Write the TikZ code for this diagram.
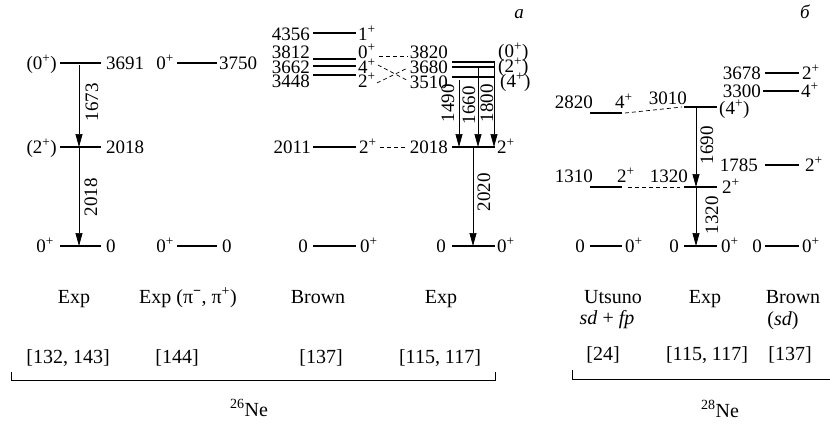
\documentclass[tikz,border=0pt]{standalone}
\usepackage{fontspec}
\setmainfont{Liberation Serif}
\usetikzlibrary{arrows.meta}
\newcommand\spl{\textsuperscript{+}}
\newcommand\lev[4]{\coordinate (#1L) at (#2,#4); \coordinate (#1R) at (#3,#4); \draw[lvl] (#1L) -- (#1R);}
\tikzset{
  lvl/.style={line width=1.8pt},
  tr/.style={line width=0.7pt, -{Triangle[length=13pt,width=7pt]}},
  dsh/.style={line width=0.7pt, dash pattern=on 4pt off 3pt},
  lab/.style={inner sep=0pt, font=\fontsize{19}{22}\selectfont},
  elab/.style={lab, anchor=base east},
  wlab/.style={lab, anchor=base west},
  rlab/.style={lab, rotate=90},
  blab/.style={inner sep=0pt, anchor=base, font=\fontsize{20}{24}\selectfont},
  brk/.style={line width=0.7pt},
}
\begin{document}
\begin{tikzpicture}[x=1pt,y=-1pt]
\fill[white] (0,0) rectangle (830,424);
\useasboundingbox (0,0) rectangle (830,424);
% ---------- 26Ne Exp ----------
\lev{Aa}{60}{101}{63}
\lev{Ab}{60}{101}{147}
\lev{Ac}{60}{101}{246}
\node[elab] (Aal) at (57,69) {(0\spl)};
\node[wlab] (Aar) at (106,69) {3691};
\node[elab] (Abl) at (57,153) {(2\spl)};
\node[wlab] (Abr) at (106,153) {2018};
\node[elab] (Acl) at (54,252) {0\spl};
\node[wlab] (Acr) at (106,252) {0};
\draw[tr] ([xshift=19pt,yshift=-2pt]AaL) -- ([xshift=19pt]AbL);
\draw[tr] ([xshift=19pt]AbL) -- ([xshift=19pt]AcL);
\node[rlab] (Ag1) at (92,102) {1673};
\node[rlab] (Ag2) at (91,197) {2018};
% ---------- 26Ne Exp (pi-,pi+) ----------
\lev{Ba}{177}{217}{63}
\lev{Bb}{177}{217}{246}
\node[elab] (Bal) at (174,69) {0\spl};
\node[wlab] (Bar) at (219,69) {3750};
\node[elab] (Bbl) at (174,252) {0\spl};
\node[wlab] (Bbr) at (222,252) {0};
% ---------- 26Ne Brown ----------
\lev{Ca}{313}{356}{33}
\lev{Cb}{313}{356}{59}
\lev{Cc}{313}{356}{66}
\lev{Cd}{313}{356}{75}
\lev{Ce}{313}{356}{147}
\lev{Cf}{313}{356}{246}
\node[elab] (Cal) at (310,40) {4356};
\node[wlab] (Car) at (358,40) {1\spl};
\node[elab] (Cbl) at (310,58) {3812};
\node[wlab] (Cbr) at (358,58) {0\spl};
\node[elab] (Ccl) at (310,73) {3662};
\node[wlab] (Ccr) at (358,73) {4\spl};
\node[elab] (Cdl) at (310,87) {3448};
\node[wlab] (Cdr) at (358,87) {2\spl};
\node[elab] (Cel) at (311,153) {2011};
\node[wlab] (Cer) at (359,153) {2\spl};
\node[elab] (Cfl) at (308,252) {0};
\node[wlab] (Cfr) at (360,252) {0\spl};
% ---------- 26Ne Exp (right) ----------
\lev{Da}{452}{495}{62}
\lev{Db}{452}{495}{67}
\lev{Dc}{452}{495}{77}
\lev{Dd}{452}{495}{147}
\lev{De}{452}{495}{246}
\node[elab] (Dal) at (448,58) {3820};
\node[wlab] (Dar) at (498,57) {(0\spl)};
\node[elab] (Dbl) at (448,73) {3680};
\node[wlab] (Dbr) at (498,72) {(2\spl)};
\node[elab] (Dcl) at (448,88) {3510};
\node[wlab] (Dcr) at (500,87) {(4\spl)};
\node[elab] (Ddl) at (448,153) {2018};
\node[wlab] (Ddr) at (497,153) {2\spl};
\node[elab] (Del) at (446,252) {0};
\node[wlab] (Der) at (497,252) {0\spl};
\draw[tr] ([xshift=7pt,yshift=-3pt]DcL) -- ([xshift=7pt]DdL);
\draw[tr] ([xshift=26pt]DbL) -- ([xshift=26pt]DdL);
\draw[tr] ([xshift=42pt]DaL) -- ([xshift=42pt]DdL);
\draw[tr] ([xshift=21pt]DdL) -- ([xshift=21pt]DeL);
\node[rlab] (Dg1) at (448,103) {1490};
\node[rlab] (Dg2) at (469,105) {1660};
\node[rlab] (Dg3) at (487,103) {1800};
\node[rlab] (Dg4) at (484,192) {2020};
% dashed correspondences
\draw[dsh] ([xshift=3pt,yshift=2pt]Cbr.base east) -- ([xshift=-2pt,yshift=2pt]Dal.base west);
\draw[dsh] ([xshift=2pt,yshift=8pt]Ccr.base east) -- ([xshift=-3pt,yshift=8pt]Dcl.base west);
\draw[dsh] ([xshift=1pt,yshift=4pt]Cdr.base east) -- ([xshift=-2pt,yshift=5pt]Dbl.base west);
\draw[dsh] ([xshift=3pt,yshift=6pt]Cer.base east) -- ([xshift=-2pt,yshift=6pt]Ddl.base west);
\node[lab, anchor=base, font=\fontsize{19}{22}\selectfont\itshape] (la) at (519,18) {а};
% ---------- 28Ne Utsuno ----------
\lev{Ea}{590}{622}{113}
\lev{Eb}{590}{622}{187}
\lev{Ec}{590}{622}{246}
\node[elab] (Eal) at (593,108) {2820};
\node[wlab] (Ear) at (615,108) {4\spl};
\node[elab] (Ebl) at (593,182) {1310};
\node[wlab] (Ebr) at (617,182) {2\spl};
\node[elab] (Ecl) at (585,252) {0};
\node[wlab] (Ecr) at (625,252) {0\spl};
% ---------- 28Ne Exp ----------
\lev{Fa}{684}{717}{107}
\lev{Fb}{684}{717}{187}
\lev{Fc}{684}{717}{246}
\node[elab] (Fal) at (687,104) {3010};
\node[wlab] (Far) at (719,114) {(4\spl)};
\node[elab] (Fbl) at (688,182) {1320};
\node[wlab] (Fbr) at (722,193) {2\spl};
\node[elab] (Fcl) at (679,252) {0};
\node[wlab] (Fcr) at (721,252) {0\spl};
\draw[tr] ([xshift=12pt]FaL) -- ([xshift=12pt]FbL);
\draw[tr] ([xshift=12pt]FbL) -- ([xshift=12pt]FcL);
\node[rlab] (Fg1) at (707,145) {1690};
\node[rlab] (Fg2) at (712,215) {1320};
\draw[dsh] ([xshift=3pt]EaR) -- ([xshift=-2pt]FaL);
\draw[dsh] ([xshift=6pt]EbR) -- ([xshift=-4pt]FbL);
% ---------- 28Ne Brown ----------
\lev{Ga}{765}{799}{73}
\lev{Gb}{763}{799}{91}
\lev{Gc}{765}{799}{165}
\lev{Gd}{765}{799}{246}
\node[elab] (Gal) at (761,79) {3678};
\node[wlab] (Gar) at (802,79) {2\spl};
\node[elab] (Gbl) at (761,97) {3300};
\node[wlab] (Gbr) at (801,97) {4\spl};
\node[elab] (Gcl) at (758,171) {1785};
\node[wlab] (Gcr) at (805,171) {2\spl};
\node[elab] (Gdl) at (762,252) {0};
\node[wlab] (Gdr) at (802,252) {0\spl};
\node[lab, anchor=base, font=\fontsize{19}{22}\selectfont\itshape] (lb) at (805,18) {б};
% ---------- bottom labels ----------
\node[blab] (n1) at (74,303) {Exp};
\node[blab] (n2) at (188,303) {Exp (π\textsuperscript{\textbf{−}}, π\textsuperscript{+})};
\node[blab] (n3) at (318,303) {Brown};
\node[blab] (n4) at (441,303) {Exp};
\node[blab] (n5) at (613,303) {Utsuno};
\node[blab] (n6) at (705,303) {Exp};
\node[blab] (n7) at (793,303) {Brown};
\node[blab] (m5) at (607,324) {\textit{sd} + \textit{fp}};
\node[blab] (m7) at (783,325) {(\textit{sd})};
\node[blab] (r1) at (68,363) {[132, 143]};
\node[blab] (r2) at (177,363) {[144]};
\node[blab] (r3) at (321,363) {[137]};
\node[blab] (r4) at (440,363) {[115, 117]};
\node[blab] (r5) at (603,360) {[24]};
\node[blab] (r6) at (707,360) {[115, 117]};
\node[blab] (r7) at (790,360) {[137]};
\coordinate (b1a) at (11,372); \coordinate (b1b) at (11,380);
\coordinate (b1c) at (495,380); \coordinate (b1d) at (495,372);
\draw[brk] (b1a) -- (b1b) -- (b1c) -- (b1d);
\coordinate (b2a) at (572,370); \coordinate (b2b) at (572,379);
\coordinate (b2c) at (834,379);
\draw[brk] (b2a) -- (b2b) -- (b2c);
\node[blab] (ne26) at (249,416) {\textsuperscript{26}Ne};
\node[blab] (ne28) at (720,417) {\textsuperscript{28}Ne};
\end{tikzpicture}
\end{document}
